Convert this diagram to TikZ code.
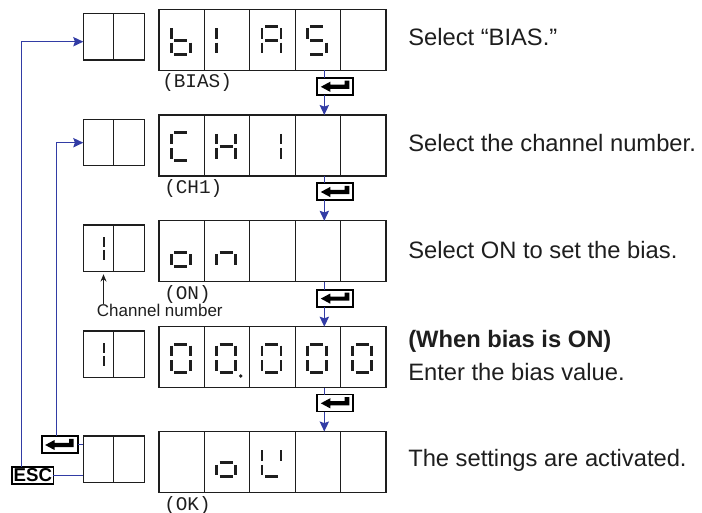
\documentclass[tikz,border=0pt]{standalone}
\usepackage{fontspec}
\setmainfont{Liberation Sans}
\newfontfamily\monofont{Liberation Mono}
\usetikzlibrary{arrows.meta}
\definecolor{flow}{RGB}{50,60,165}
\definecolor{ink}{RGB}{30,30,30}
\newcommand\mysegdraw[1]{%
 \if a#1\draw[seg] (-6.5,-14)--(6.5,-14);\fi
 \if b#1\draw[seg] (9.5,-12.5)--(9.5,-2);\fi
 \if c#1\draw[seg] (9.5,2)--(9.5,12.5);\fi
 \if d#1\draw[seg] (-6.5,14)--(6.5,14);\fi
 \if e#1\draw[seg] (-9.5,2)--(-9.5,12.5);\fi
 \if f#1\draw[seg] (-9.5,-12.5)--(-9.5,-2);\fi
 \if g#1\draw[seg] (-6.5,0)--(6.5,0);\fi}
\newcommand\sevenseg[2]{\begin{scope}[shift={#1}]\foreach \s in {#2}{\mysegdraw{\s}}\end{scope}}
\newcommand\enterglyph[1]{\fill[black,shift={(#1.center)}] (-14.5,0.3) -- (-5,-4.8) -- (-5,-1.8) -- (9.3,-1.8) -- (9.3,-5.8) -- (14,-5.8) -- (14,2.4) -- (-5,2.4) -- (-5,5.4) -- cycle;}
\begin{document}
\begin{tikzpicture}[x=0.75pt,y=-0.75pt,
  box/.style={draw=ink, line width=0.9pt, inner sep=0pt, outer sep=0pt},
  big/.style={box, minimum width=170.25pt, minimum height=45.75pt},
  small/.style={box, minimum width=45.75pt, minimum height=34.9pt},
  key/.style={draw=black, line width=1.3pt, fill=white, inner sep=0pt, outer sep=0pt, minimum width=27pt, minimum height=12.75pt},
  seg/.style={line width=2.1pt, draw=ink},
  flowline/.style={draw=flow, line width=1.05pt},
  flowarrow/.style={flowline, -{Stealth[length=7.5pt,width=7pt,inset=1.2pt]}},
  lbl/.style={font=\monofont\fontsize{14.5}{16}\selectfont, inner sep=0pt, anchor=west, text=ink},
  desc/.style={font=\fontsize{17.8}{21}\selectfont, inner sep=0pt, anchor=base west, text=ink},
]
\useasboundingbox (0,0) rectangle (702,513);

% large display boxes
\node[big] (L1) at (272.5,39.7) {};
\node[big] (L2) at (272.5,145.5) {};
\node[big] (L3) at (272.5,251.3) {};
\node[big] (L4) at (272.5,357.2) {};
\node[big] (L5) at (272.5,462) {};
\foreach \n in {L1,L2,L3,L4,L5}{
  \foreach \k in {1,2,3,4}{
    \draw[ink, line width=0.9pt] ([xshift=\k*34.05pt]\n.north west) -- ([xshift=\k*34.05pt]\n.south west);
  }
}
% small boxes
\node[small] (S1) at (113.8,36.7) {};
\node[small] (S2) at (113.8,142.5) {};
\node[small] (S3) at (113.8,248.3) {};
\node[small] (S4) at (113.8,354.3) {};
\node[small] (S5) at (113.8,459.2) {};
\foreach \n in {S1,S2,S3,S4,S5}{\draw[ink, line width=0.9pt] (\n.north) -- (\n.south);}

% digits row 1: b I A S
\sevenseg{(180.7,40.7)}{f,e,g,c,d}
\sevenseg{(226.1,40.7)}{e,f}
\sevenseg{(271.5,40.7)}{a,b,c,e,f,g}
\sevenseg{(316.9,40.7)}{a,f,g,c,d}
% row 2: C H 1
\sevenseg{(180.7,146.5)}{a,f,e,d}
\sevenseg{(226.1,146.5)}{f,e,b,c,g}
\sevenseg{(271.5,146.5)}{b,c}
% row 3: o n
\sevenseg{(180.7,252.3)}{g,c,d,e}
\sevenseg{(226.1,252.3)}{g,e,c}
% row 4: 0 0. 0 0 0
\sevenseg{(180.7,358.2)}{a,b,c,d,e,f}
\sevenseg{(226.1,358.2)}{a,b,c,d,e,f}
\sevenseg{(271.5,358.2)}{a,b,c,d,e,f}
\sevenseg{(316.9,358.2)}{a,b,c,d,e,f}
\sevenseg{(362.3,358.2)}{a,b,c,d,e,f}
\fill[ink] (240.7,376) circle[radius=1.4pt];
% row 5: o K
\sevenseg{(226.1,462.8)}{g,c,d,e}
\sevenseg{(271.5,462.8)}{f,e,b,d}
% small digits "1"
\draw[seg] (104,237) -- (104,246.8);
\draw[seg] (104,249.8) -- (104,259.6);
\draw[seg] (104,343) -- (104,352.8);
\draw[seg] (104,355.8) -- (104,365.6);

% labels
\node[lbl] (lb1) at (162,83) {(BIAS)};
\node[lbl] (lb2) at (164,189) {(CH1)};
\node[lbl] (lb3) at (164,295) {(ON)};
\node[lbl] (lb5) at (164,505) {(OK)};

% enter keys
\node[key] (K1) at (335.3,86.5) {};
\node[key] (K2) at (335.3,191.7) {};
\node[key] (K3) at (335.3,298.3) {};
\node[key] (K4) at (335.3,403) {};
\node[key] (K5) at (59.7,444.7) {};
\foreach \k in {K1,K2,K3,K4,K5}{\enterglyph{\k}}
\node[key, minimum width=31pt, minimum height=13pt, font=\bfseries\fontsize{14}{14}\selectfont] (ESC) at (32.8,475.3) {ESC};

% flow connectors
\coordinate (vx) at (324.3,0);
\draw[flowline] (L1.south -| vx) -- (K1.north -| vx);
\draw[flowarrow] (K1.south -| vx) -- (L2.north -| vx);
\draw[flowline] (L2.south -| vx) -- (K2.north -| vx);
\draw[flowarrow] (K2.south -| vx) -- (L3.north -| vx);
\draw[flowline] (L3.south -| vx) -- (K3.north -| vx);
\draw[flowarrow] (K3.south -| vx) -- (L4.north -| vx);
\draw[flowline] (L4.south -| vx) -- (K4.north -| vx);
\draw[flowarrow] (K4.south -| vx) -- (L5.north -| vx);

\coordinate (escx) at (21.7,41.7);
\coordinate (entx) at (56.7,142.7);
\draw[flowarrow] (ESC.north -| escx) -- (escx) -- (S1.west |- escx);
\draw[flowarrow] (K5.north -| entx) -- (entx) -- (S2.west |- entx);
\draw[flowline] (ESC.east) -- (S5.west |- ESC.east);
\draw[flowline] (K5.east) -- (S5.west |- K5.east);

% channel number
\node[font=\fontsize{12.75}{14}\selectfont, anchor=base west, inner sep=0pt, text=ink] (chn) at (96.7,316.5) {Channel number};
\coordinate (arr) at (103.5,0);
\draw[ink, line width=0.8pt, -{Stealth[length=5.5pt,width=4.5pt]}, shorten >=2pt] (chn.north -| arr) -- (S3.south -| arr);

% descriptions
\node[desc] (t1) at (408,46) {Select “BIAS.”};
\node[desc] (t2) at (408,151.7) {Select the channel number.};
\node[desc] (t3) at (408,258) {Select ON to set the bias.};
\node[desc, font=\bfseries\fontsize{17.8}{21}\selectfont] (t4a) at (408,347) {(When bias is ON)};
\node[desc] (t4b) at (408,380) {Enter the bias value.};
\node[desc] (t5) at (408,466.7) {The settings are activated.};
\end{tikzpicture}
\end{document}
